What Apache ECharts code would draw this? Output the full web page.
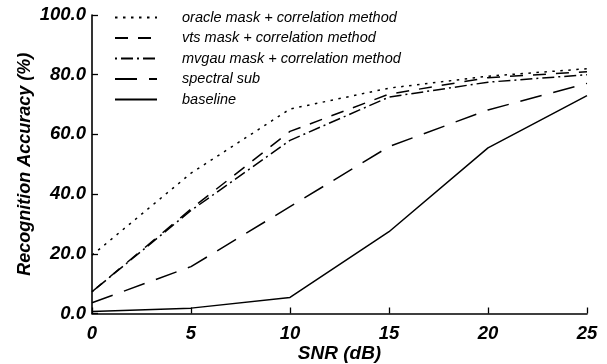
<!DOCTYPE html>
<html><head><meta charset="utf-8">
<script src="https://cdn.jsdelivr.net/npm/echarts@6/dist/echarts.min.js"></script>
<style>html,body{margin:0;padding:0;background:#fff}#c{width:607px;height:364px}</style>
</head><body><div id="c"></div>
<script>
const snr = [0, 5, 10, 15, 20, 25];
const seriesNames = ['oracle mask + correlation method','vts mask + correlation method','mvgau mask + correlation method','spectral sub','baseline'];
const oracle = [19.5, 47, 68.5, 75.5, 79.5, 82];
const vts = [7.3, 35, 61, 73.5, 79, 81];
const mvgau = [7.3, 34.5, 58, 72.5, 77.5, 80];
const spectral = [3.6, 15.7, 35.8, 55.9, 68.2, 77.1];
const baseline = [0.7, 1.8, 5.4, 27.4, 55.5, 73];
const dashes = [[2.5,5.5],[13,10],[2,4,12,4],[22,12],'solid'];
const allVals = [oracle, vts, mvgau, spectral, baseline];
const FF = '"Liberation Sans", Arial, sans-serif';
const chart = echarts.init(document.getElementById('c'));
chart.setOption({
  animation: false,
  backgroundColor: '#fff',
  grid: {left: 92, right: 20, top: 15, bottom: 50.5, containLabel: false, outerBoundsMode: 'none'},
  legend: {
    orient: 'vertical', left: 109, top: 5, itemWidth: 42, itemHeight: 14, itemGap: 5.5,
    itemStyle: {opacity: 0, color: 'rgba(0,0,0,0)', borderWidth: 0},
    textStyle: {fontFamily: FF, fontStyle: 'italic', fontSize: 14.5, color: '#000', padding: [0,0,0,20]},
    data: seriesNames
  },
  xAxis: {
    type: 'value', min: 0, max: 25, interval: 5,
    name: 'SNR (dB)', nameLocation: 'middle', nameGap: 31, nameMoveOverlap: false,
    nameTextStyle: {fontFamily: FF, fontStyle: 'italic', fontWeight: 'bold', fontSize: 19, color: '#000'},
    axisLine: {lineStyle: {color: '#000', width: 1.6}},
    axisTick: {inside: true, length: 6, lineStyle: {color: '#000', width: 1.3}},
    axisLabel: {margin: 11, fontFamily: FF, fontStyle: 'italic', fontWeight: 'bold', fontSize: 18.5, color: '#000'},
    splitLine: {show: false}
  },
  yAxis: {
    type: 'value', min: 0, max: 100, interval: 20,
    name: 'Recognition Accuracy (%)', nameLocation: 'middle', nameGap: 58, nameMoveOverlap: false,
    nameTextStyle: {fontFamily: FF, fontStyle: 'italic', fontWeight: 'bold', fontSize: 18, color: '#000'},
    axisLine: {show: true, lineStyle: {color: '#000', width: 1.6}},
    axisTick: {show: true, inside: true, length: 6, lineStyle: {color: '#000', width: 1.3}},
    axisLabel: {margin: 6, fontFamily: FF, fontStyle: 'italic', fontWeight: 'bold', fontSize: 18.5, color: '#000',
      formatter: v => v.toFixed(1)},
    splitLine: {show: false}
  },
  series: seriesNames.map((n, i) => ({
    name: n, type: 'line', symbol: 'none', showSymbol: false,
    data: snr.map((x, j) => [x, allVals[i][j]]),
    lineStyle: {color: '#000', width: 1.5, type: dashes[i]},
    itemStyle: {color: '#000'}
  }))
});
</script></body></html>
